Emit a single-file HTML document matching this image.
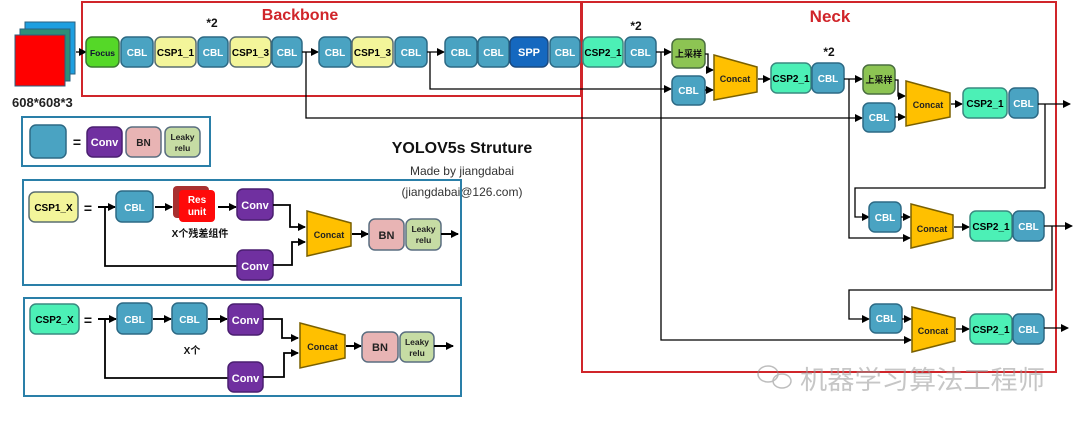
<!DOCTYPE html>
<html><head><meta charset="utf-8"><style>
html,body{margin:0;padding:0;background:#fff;}
svg{display:block;}
text{font-family:"Liberation Sans","DejaVu Sans","Noto Sans CJK SC",sans-serif;font-weight:bold;}
</style></head><body>
<svg width="1080" height="425" viewBox="0 0 1080 425" xmlns="http://www.w3.org/2000/svg">
<defs>
<marker id="a" markerWidth="8" markerHeight="8" refX="7" refY="4" orient="auto" markerUnits="userSpaceOnUse"><path d="M0,0 L8,4 L0,8 z" fill="#000"/></marker>
<style>
.cbl{fill:#4aa3c2;stroke:#2d6a85;stroke-width:1.5}
.c1{fill:#f3f59a;stroke:#5a6e70;stroke-width:1.5}
.c2{fill:#4cf0b6;stroke:#3a8a80;stroke-width:1.5}
.cv{fill:#7030a0;stroke:#4a1f70;stroke-width:1.5}
.bn{fill:#e8b4b4;stroke:#5a6e80;stroke-width:1.5}
.lk{fill:#c6dca4;stroke:#5a6e80;stroke-width:1.5}
.up{fill:#8dc453;stroke:#4a6e40;stroke-width:1.5}
.cc{fill:#ffc000;stroke:#7a6000;stroke-width:1.5}
.ln{fill:none;stroke:#000;stroke-width:1.3}
.w{fill:#fff;font-size:10px}
.k{fill:#000;font-size:10px}
</style>
</defs>

<!-- input -->
<rect x="25" y="22" width="50" height="52" fill="#1e9fe0" stroke="#2a6080"/>
<rect x="20" y="29" width="50" height="52" fill="#2e8f78" stroke="#2a6080"/>
<rect x="15" y="35" width="50" height="51" fill="#ff0000" stroke="#2a6080"/>
<text x="12" y="107" font-size="13" fill="#222">608*608*3</text>

<!-- backbone / neck frames -->
<rect x="82" y="2" width="499" height="94" fill="none" stroke="#d0252a" stroke-width="2"/>
<rect x="582" y="2" width="474" height="370" fill="none" stroke="#d0252a" stroke-width="2"/>
<text x="300" y="20" font-size="16" fill="#d0252a" text-anchor="middle">Backbone</text>
<text x="830" y="22" font-size="17" fill="#d0252a" text-anchor="middle">Neck</text>
<text x="212" y="27" font-size="12" fill="#111" text-anchor="middle">*2</text>
<text x="636" y="30" font-size="12" fill="#111" text-anchor="middle">*2</text>
<text x="829" y="56" font-size="12" fill="#111" text-anchor="middle">*2</text>

<!-- backbone row -->
<line class="ln" x1="76" y1="52" x2="86" y2="52" marker-end="url(#a)"/>
<rect x="86" y="37" width="33" height="30" rx="6" fill="#55d828" stroke="#3a7a30" stroke-width="1.5"/>
<text x="102.5" y="56" font-size="8.5" fill="#113" text-anchor="middle">Focus</text>
<rect class="cbl" x="121" y="37" width="32" height="30" rx="6"/><text class="w" x="137" y="56" text-anchor="middle">CBL</text>
<rect class="c1" x="155" y="37" width="41" height="30" rx="6"/><text class="k" x="175.5" y="56" text-anchor="middle">CSP1_1</text>
<rect class="cbl" x="198" y="37" width="30" height="30" rx="6"/><text class="w" x="213" y="56" text-anchor="middle">CBL</text>
<rect class="c1" x="230" y="37" width="41" height="30" rx="6"/><text class="k" x="250.5" y="56" text-anchor="middle">CSP1_3</text>
<rect class="cbl" x="272" y="37" width="30" height="30" rx="6"/><text class="w" x="287" y="56" text-anchor="middle">CBL</text>
<line class="ln" x1="302" y1="52" x2="318" y2="52" marker-end="url(#a)"/>
<rect class="cbl" x="319" y="37" width="32" height="30" rx="6"/><text class="w" x="335" y="56" text-anchor="middle">CBL</text>
<rect class="c1" x="352" y="37" width="41" height="30" rx="6"/><text class="k" x="372.5" y="56" text-anchor="middle">CSP1_3</text>
<rect class="cbl" x="395" y="37" width="32" height="30" rx="6"/><text class="w" x="411" y="56" text-anchor="middle">CBL</text>
<line class="ln" x1="427" y1="52" x2="444" y2="52" marker-end="url(#a)"/>
<rect class="cbl" x="445" y="37" width="32" height="30" rx="6"/><text class="w" x="461" y="56" text-anchor="middle">CBL</text>
<rect class="cbl" x="478" y="37" width="31" height="30" rx="6"/><text class="w" x="493.5" y="56" text-anchor="middle">CBL</text>
<rect x="510" y="37" width="38" height="30" rx="6" fill="#1568bf" stroke="#1a4a80" stroke-width="1.5"/><text x="529" y="56" font-size="11" fill="#fff" text-anchor="middle">SPP</text>
<rect class="cbl" x="550" y="37" width="30" height="30" rx="6"/><text class="w" x="565" y="56" text-anchor="middle">CBL</text>
<rect class="c2" x="583" y="37" width="40" height="30" rx="6"/><text class="k" x="603" y="56" text-anchor="middle">CSP2_1</text>
<rect class="cbl" x="625" y="37" width="31" height="30" rx="6"/><text class="w" x="640.5" y="56" text-anchor="middle">CBL</text>

<!-- long lines from backbone -->
<polyline class="ln" points="306,52 306,118 862,118" marker-end="url(#a)"/>
<polyline class="ln" points="430,52 430,89 671,89" marker-end="url(#a)"/>
<polyline class="ln" points="656,52 671,52" marker-end="url(#a)"/>
<polyline class="ln" points="661,52 661,340 911,340" marker-end="url(#a)"/>

<!-- neck top stage 1 -->
<rect class="up" x="672" y="39" width="33" height="29" rx="6"/><text x="688.5" y="57" font-size="9" fill="#111" text-anchor="middle">上采样</text>
<rect class="cbl" x="672" y="76" width="33" height="29" rx="6"/><text class="w" x="688.5" y="94" text-anchor="middle">CBL</text>
<polyline class="ln" points="705,54 708,54 708,70 713,70" marker-end="url(#a)"/>
<line class="ln" x1="705" y1="90" x2="713" y2="90" marker-end="url(#a)"/>
<polygon class="cc" points="714,55 757,67 757,92 714,100"/><text x="735" y="82" font-size="9" fill="#222" text-anchor="middle">Concat</text>
<line class="ln" x1="758" y1="79" x2="770" y2="79" marker-end="url(#a)"/>
<rect class="c2" x="771" y="63" width="40" height="30" rx="6"/><text class="k" x="791" y="82" text-anchor="middle">CSP2_1</text>
<rect class="cbl" x="812" y="63" width="32" height="30" rx="6"/><text class="w" x="828" y="82" text-anchor="middle">CBL</text>
<line class="ln" x1="844" y1="79" x2="862" y2="79" marker-end="url(#a)"/>
<polyline class="ln" points="849,79 849,238 910,238" marker-end="url(#a)"/>

<!-- neck top stage 2 -->
<rect class="up" x="863" y="65" width="32" height="29" rx="6"/><text x="879" y="83" font-size="9" fill="#111" text-anchor="middle">上采样</text>
<rect class="cbl" x="863" y="103" width="32" height="29" rx="6"/><text class="w" x="879" y="121" text-anchor="middle">CBL</text>
<polyline class="ln" points="895,80 898,80 898,96 905,96" marker-end="url(#a)"/>
<line class="ln" x1="895" y1="117" x2="905" y2="117" marker-end="url(#a)"/>
<polygon class="cc" points="906,81 950,93 950,117 906,126"/><text x="928" y="108" font-size="9" fill="#222" text-anchor="middle">Concat</text>
<line class="ln" x1="951" y1="104" x2="962" y2="104" marker-end="url(#a)"/>
<rect class="c2" x="963" y="88" width="44" height="30" rx="6"/><text class="k" x="985" y="107" text-anchor="middle">CSP2_1</text>
<rect class="cbl" x="1009" y="88" width="29" height="30" rx="6"/><text class="w" x="1023.5" y="107" text-anchor="middle">CBL</text>
<line class="ln" x1="1038" y1="104" x2="1070" y2="104" marker-end="url(#a)"/>
<polyline class="ln" points="1045,104 1045,188 855,188 855,217 869,217" marker-end="url(#a)"/>

<!-- neck stage 3 -->
<rect class="cbl" x="869" y="202" width="32" height="30" rx="6"/><text class="w" x="885" y="221" text-anchor="middle">CBL</text>
<line class="ln" x1="901" y1="217" x2="910" y2="217" marker-end="url(#a)"/>
<polygon class="cc" points="911,204 953,215 953,238 911,248"/><text x="932" y="232" font-size="9" fill="#222" text-anchor="middle">Concat</text>
<line class="ln" x1="954" y1="227" x2="969" y2="227" marker-end="url(#a)"/>
<rect class="c2" x="970" y="211" width="42" height="30" rx="6"/><text class="k" x="991" y="230" text-anchor="middle">CSP2_1</text>
<rect class="cbl" x="1013" y="211" width="31" height="30" rx="6"/><text class="w" x="1028.5" y="230" text-anchor="middle">CBL</text>
<line class="ln" x1="1044" y1="226" x2="1072" y2="226" marker-end="url(#a)"/>
<polyline class="ln" points="1052,226 1052,290 849,290 849,319 869,319" marker-end="url(#a)"/>

<!-- neck stage 4 -->
<rect class="cbl" x="870" y="304" width="32" height="29" rx="6"/><text class="w" x="886" y="322" text-anchor="middle">CBL</text>
<line class="ln" x1="902" y1="319" x2="911" y2="319" marker-end="url(#a)"/>
<polygon class="cc" points="912,307 955,318 955,341 912,352"/><text x="933" y="334" font-size="9" fill="#222" text-anchor="middle">Concat</text>
<line class="ln" x1="956" y1="329" x2="969" y2="329" marker-end="url(#a)"/>
<rect class="c2" x="970" y="314" width="42" height="30" rx="6"/><text class="k" x="991" y="333" text-anchor="middle">CSP2_1</text>
<rect class="cbl" x="1013" y="314" width="31" height="30" rx="6"/><text class="w" x="1028.5" y="333" text-anchor="middle">CBL</text>
<line class="ln" x1="1044" y1="328" x2="1068" y2="328" marker-end="url(#a)"/>

<!-- title -->
<text x="462" y="153" font-size="16" fill="#111" text-anchor="middle">YOLOV5s Struture</text>
<text x="462" y="175" font-size="12" fill="#333" text-anchor="middle" style="font-weight:normal">Made by jiangdabai</text>
<text x="462" y="196" font-size="12" fill="#333" text-anchor="middle" style="font-weight:normal">(jiangdabai@126.com)</text>

<!-- legend CBL -->
<rect x="22" y="117" width="188" height="49" fill="none" stroke="#2a7fa8" stroke-width="2"/>
<rect class="cbl" x="30" y="125" width="36" height="33" rx="6"/>
<text x="77" y="147" font-size="14" fill="#111" text-anchor="middle">=</text>
<rect class="cv" x="87" y="127" width="35" height="30" rx="6"/><text x="104.5" y="146" font-size="11" fill="#fff" text-anchor="middle">Conv</text>
<rect class="bn" x="126" y="127" width="35" height="30" rx="6"/><text x="143.5" y="146" font-size="10" fill="#222" text-anchor="middle">BN</text>
<rect class="lk" x="165" y="127" width="35" height="30" rx="6"/><text x="182.5" y="140" font-size="8.5" fill="#222" text-anchor="middle">Leaky</text><text x="182.5" y="151" font-size="8.5" fill="#222" text-anchor="middle">relu</text>

<!-- CSP1_X -->
<rect x="23" y="180" width="438" height="105" fill="none" stroke="#2a7fa8" stroke-width="2"/>
<rect class="c1" x="29" y="192" width="49" height="30" rx="6"/><text class="k" x="53.5" y="211" text-anchor="middle">CSP1_X</text>
<text x="88" y="213" font-size="14" fill="#111" text-anchor="middle">=</text>
<line class="ln" x1="98" y1="207" x2="115" y2="207" marker-end="url(#a)" style="stroke-width:2"/>
<rect class="cbl" x="116" y="191" width="37" height="31" rx="6"/><text class="w" x="134.5" y="211" text-anchor="middle">CBL</text>
<line class="ln" x1="155" y1="207" x2="172" y2="207" marker-end="url(#a)" style="stroke-width:2"/>
<rect x="173" y="186" width="36" height="32" rx="4" fill="#a83030"/>
<rect x="179" y="190" width="36" height="32" rx="4" fill="#ff0a0a"/>
<text x="197" y="203" font-size="10" fill="#fff" text-anchor="middle">Res</text><text x="197" y="215" font-size="10" fill="#fff" text-anchor="middle">unit</text>
<line class="ln" x1="218" y1="207" x2="236" y2="207" marker-end="url(#a)" style="stroke-width:2"/>
<rect class="cv" x="237" y="189" width="36" height="31" rx="6"/><text x="255" y="209" font-size="11" fill="#fff" text-anchor="middle">Conv</text>
<text x="200" y="237" font-size="10" fill="#111" text-anchor="middle">X个残差组件</text>
<polyline class="ln" points="273,205 290,205 290,227 305,227" marker-end="url(#a)" style="stroke-width:1.8"/>
<polyline class="ln" points="105,207 105,266 237,266" style="stroke-width:1.8"/>
<rect class="cv" x="237" y="250" width="36" height="30" rx="6"/><text x="255" y="270" font-size="11" fill="#fff" text-anchor="middle">Conv</text>
<polyline class="ln" points="273,265 292,265 292,242 305,242" marker-end="url(#a)" style="stroke-width:1.8"/>
<polygon class="cc" points="307,211 351,223 351,246 307,256"/><text x="329" y="238" font-size="9" fill="#222" text-anchor="middle">Concat</text>
<line class="ln" x1="352" y1="234" x2="368" y2="234" marker-end="url(#a)" style="stroke-width:2"/>
<rect class="bn" x="369" y="219" width="35" height="31" rx="6"/><text x="386.5" y="239" font-size="11" fill="#222" text-anchor="middle">BN</text>
<rect class="lk" x="406" y="219" width="35" height="31" rx="6"/><text x="423.5" y="232" font-size="8.5" fill="#222" text-anchor="middle">Leaky</text><text x="423.5" y="243" font-size="8.5" fill="#222" text-anchor="middle">relu</text>
<line class="ln" x1="441" y1="234" x2="458" y2="234" marker-end="url(#a)" style="stroke-width:2"/>

<!-- CSP2_X -->
<rect x="24" y="298" width="437" height="98" fill="none" stroke="#2a7fa8" stroke-width="2"/>
<rect class="c2" x="30" y="304" width="49" height="30" rx="6"/><text class="k" x="54.5" y="323" text-anchor="middle">CSP2_X</text>
<text x="88" y="325" font-size="14" fill="#111" text-anchor="middle">=</text>
<line class="ln" x1="98" y1="319" x2="116" y2="319" marker-end="url(#a)" style="stroke-width:2"/>
<rect class="cbl" x="117" y="303" width="35" height="31" rx="6"/><text class="w" x="134.5" y="323" text-anchor="middle">CBL</text>
<line class="ln" x1="153" y1="319" x2="171" y2="319" marker-end="url(#a)" style="stroke-width:2"/>
<rect class="cbl" x="172" y="303" width="35" height="31" rx="6"/><text class="w" x="189.5" y="323" text-anchor="middle">CBL</text>
<line class="ln" x1="208" y1="319" x2="227" y2="319" marker-end="url(#a)" style="stroke-width:2"/>
<rect class="cv" x="228" y="304" width="35" height="31" rx="6"/><text x="245.5" y="324" font-size="11" fill="#fff" text-anchor="middle">Conv</text>
<text x="192" y="354" font-size="10" fill="#111" text-anchor="middle">X个</text>
<polyline class="ln" points="263,319 282,319 282,338 298,338" marker-end="url(#a)" style="stroke-width:1.8"/>
<polyline class="ln" points="105,319 105,378 228,378" style="stroke-width:1.8"/>
<rect class="cv" x="228" y="362" width="35" height="30" rx="6"/><text x="245.5" y="382" font-size="11" fill="#fff" text-anchor="middle">Conv</text>
<polyline class="ln" points="263,377 284,377 284,353 298,353" marker-end="url(#a)" style="stroke-width:1.8"/>
<polygon class="cc" points="300,323 345,335 345,358 300,368"/><text x="322.5" y="350" font-size="9" fill="#222" text-anchor="middle">Concat</text>
<line class="ln" x1="346" y1="346" x2="361" y2="346" marker-end="url(#a)" style="stroke-width:2"/>
<rect class="bn" x="362" y="332" width="36" height="30" rx="6"/><text x="380" y="351" font-size="11" fill="#222" text-anchor="middle">BN</text>
<rect class="lk" x="400" y="332" width="34" height="30" rx="6"/><text x="417" y="345" font-size="8.5" fill="#222" text-anchor="middle">Leaky</text><text x="417" y="356" font-size="8.5" fill="#222" text-anchor="middle">relu</text>
<line class="ln" x1="434" y1="346" x2="453" y2="346" marker-end="url(#a)" style="stroke-width:2"/>

<!-- watermark -->
<g opacity="0.55">
<ellipse cx="768" cy="374" rx="10" ry="8" fill="none" stroke="#888" stroke-width="1.5"/>
<ellipse cx="782" cy="381" rx="9" ry="7" fill="none" stroke="#888" stroke-width="1.5"/>
<text x="800" y="389" font-size="26" fill="#999" style="font-weight:normal" textLength="245" lengthAdjust="spacingAndGlyphs">机器学习算法工程师</text>
</g>
</svg>
</body></html>
